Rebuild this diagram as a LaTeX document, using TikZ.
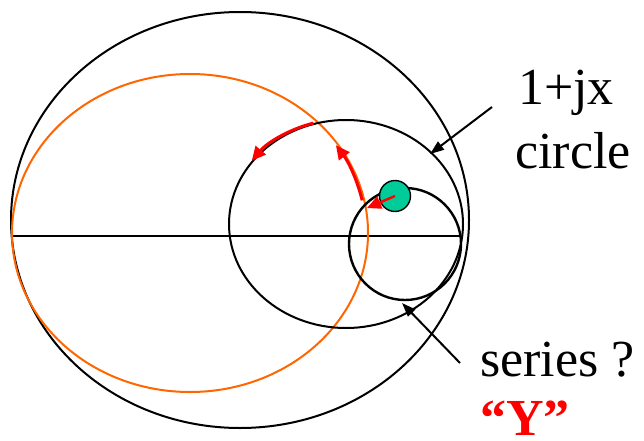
\documentclass[tikz,border=0pt]{standalone}
\usepackage{fontspec}
\setmainfont{Liberation Serif}
\usetikzlibrary{arrows.meta}
\definecolor{chartorange}{RGB}{255,102,0}
\definecolor{dotgreen}{RGB}{0,204,153}
\begin{document}
\begin{tikzpicture}[x=1pt, y=1pt,
  every node/.style={font=\fontsize{52}{62}\selectfont, inner sep=0pt},
  curve/.style={line width=2pt},
  redarc/.style={red, line width=3pt, -{Triangle[length=14pt,width=13pt]}},
  pointer/.style={line width=2pt, -{Triangle[length=14pt,width=10pt]}}]
\useasboundingbox (0,0) rectangle (644,440);
% chart outline and real axis
\draw[curve] (240,220) ellipse [x radius=229, y radius=208];
\draw[curve] (12,204) -- (460,204);
\draw[curve, chartorange] (190,207) ellipse [x radius=178, y radius=159];
% 1+jx circle and series circle
\draw[curve] (346,216) ellipse [x radius=117, y radius=104];
\draw[curve, line width=2.4pt] (405,196) circle [radius=56];
% moves on the chart
\draw[redarc] (346,216) ++(106:118 and 105) arc [start angle=106, end angle=143, x radius=118, y radius=105];
\draw[redarc] (190,207) ++(12:176 and 157) arc [start angle=12, end angle=34, x radius=176, y radius=157];
\node[circle, draw, line width=1.4pt, fill=dotgreen, minimum size=31pt] (dot) at (395,244) {};
\coordinate (dotmove) at (367,232);
\draw[redarc, line width=2.4pt] (dot.center) -- (dotmove);
% labels
\node[anchor=base west] (jx) at (518,335) {1+jx};
\node[anchor=base west] (circ) at (515,272) {circle};
\node[anchor=base west] (ser) at (480,64) {series ?};
\node[anchor=base west, red, font=\fontsize{52}{62}\selectfont\bfseries] (yq) at (480,5) {“Y”};
\coordinate (jxtail) at (492,333); \coordinate (jxtip) at (430,286);
\coordinate (sertail) at (460,77); \coordinate (sertip) at (402,137);
\draw[pointer] (jxtail) -- (jxtip);
\draw[pointer] (sertail) -- (sertip);
\end{tikzpicture}
\end{document}
